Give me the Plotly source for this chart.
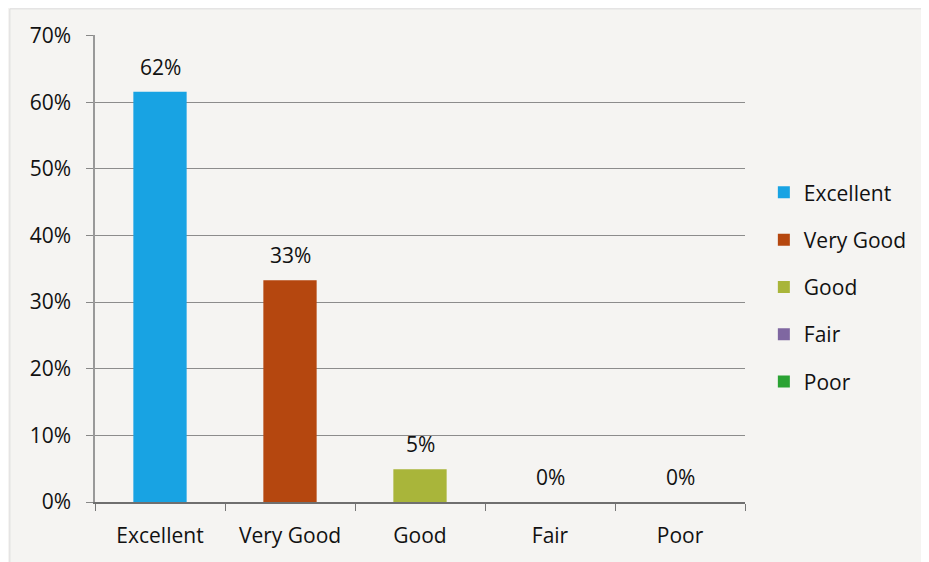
import plotly.graph_objects as go

categories = ["Excellent", "Very Good", "Good", "Fair", "Poor"]
values = [61.6, 33.3, 4.9, 0, 0]
labels = ["62%", "33%", "5%", "0%", "0%"]
colors = ["#18a3e3", "#b5470f", "#a9b53a", "#7f67a1", "#2aa233"]
y_ticks = [0, 10, 20, 30, 40, 50, 60, 70]
y_tick_text = ["0%", "10%", "20%", "30%", "40%", "50%", "60%", "70%"]

FONT = "Open Sans"
FS = 21

fig = go.Figure()
for cat, v, lab, c in zip(categories, values, labels, colors):
    fig.add_trace(go.Bar(
        x=[cat], y=[v], name=cat, legendgroup=cat,
        marker=dict(color=c, line=dict(width=0)),
        width=0.41,
    ))
    fig.add_annotation(
        x=cat, y=v, text=lab, showarrow=False,
        yanchor="middle", yshift=25,
        font=dict(size=FS, color="#111111", family=FONT),
    )

fig.update_layout(
    width=929, height=562,
    margin=dict(l=87, r=192, t=27, b=68),
    paper_bgcolor="#f5f4f2",
    plot_bgcolor="#f5f4f2",
    barmode="overlay",
    font=dict(family=FONT, size=FS, color="#111111"),
    legend=dict(
        x=1.029, y=0.46, xanchor="left", yanchor="middle",
        font=dict(size=FS, family=FONT),
        tracegroupgap=17,
        itemwidth=30,
        bgcolor="rgba(0,0,0,0)",
    ),
    showlegend=True,
)

fig.update_xaxes(
    categoryorder="array", categoryarray=categories,
    showline=True, linecolor="#6f6f6f", linewidth=2,
    ticks="outside", tickson="boundaries", ticklen=7, tickcolor="#777777",
    tickfont=dict(size=FS, family=FONT),
    ticklabelstandoff=14,
    showgrid=False,
)
fig.update_yaxes(
    range=[0, 70.1],
    tickvals=y_ticks, ticktext=y_tick_text,
    showline=True, linecolor="#999999", linewidth=1.5,
    ticks="outside", ticklen=7, tickcolor="#888888",
    ticklabelstandoff=11,
    showgrid=True, gridcolor="#8c8c8c", gridwidth=1.3,
    zeroline=False,
    tickfont=dict(size=FS, family=FONT),
)

fig.add_shape(type="rect", xref="paper", yref="paper",
              x0=-0.131, x1=1.4, y0=-0.2, y1=1.056,
              line=dict(color="#dcdcdc", width=1))

fig.write_html("out.html")
